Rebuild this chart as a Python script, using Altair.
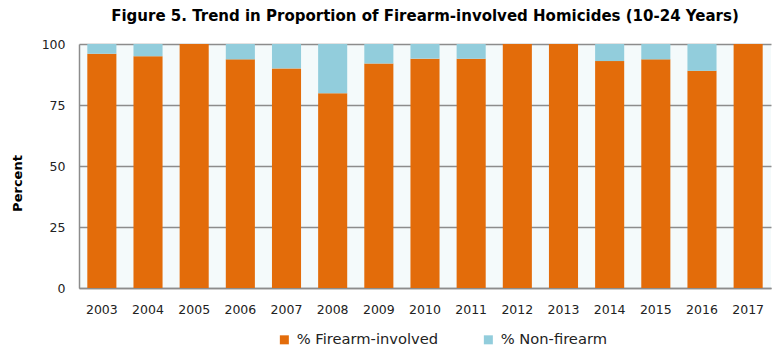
import altair as alt
import pandas as pd

years = [str(y) for y in range(2003, 2018)]
firearm = [96, 95, 100, 93.7, 90, 79.8, 92, 94, 94, 100, 100, 93, 93.7, 89, 100]
nonfirearm = [round(100 - v, 1) for v in firearm]

series_names = ["% Firearm-involved", "% Non-firearm"]
colors = ["#E36C0A", "#92CDDC"]

rows = []
for y, f, n in zip(years, firearm, nonfirearm):
    rows.append({"year": y, "series": series_names[0], "value": f, "ord": 0})
    rows.append({"year": y, "series": series_names[1], "value": n, "ord": 1})
df = pd.DataFrame(rows)

font = "DejaVu Sans"

chart = alt.Chart(df).mark_bar().encode(
    x=alt.X("year:N", title=None,
            scale=alt.Scale(paddingInner=0.37, paddingOuter=0.18),
            axis=alt.Axis(labelAngle=0, labelFont=font, labelFontSize=12.5,
                          labelColor="#222222", ticks=False, labelPadding=15,
                          domainColor="#8C8C8C", domainWidth=1.5, grid=False)),
    y=alt.Y("value:Q", title="Percent", stack="zero",
            scale=alt.Scale(domain=[0, 100], nice=False),
            axis=alt.Axis(values=[0, 25, 50, 75, 100], labelFont=font, labelFontSize=12.5,
                          labelColor="#222222", ticks=False, labelPadding=14,
                          titleFont=font, titleFontSize=13, titleFontWeight="bold",
                          titleColor="#000000", titleX=-62, titleY=139,
                          titleAlign="center", titleBaseline="middle", titleAngle=270,
                          domainColor="#8C8C8C", domainWidth=1.5,
                          gridColor="#8C8C8C", gridWidth=1.5)),
    color=alt.Color("series:N",
                    scale=alt.Scale(domain=series_names, range=colors),
                    legend=alt.Legend(title=None, orient="none", direction="horizontal",
                                      legendX=198, legendY=288,
                                      symbolType="square", symbolSize=81,
                                      symbolStrokeWidth=0, labelFont=font,
                                      labelFontSize=14.7, labelColor="#222222",
                                      labelOffset=5, columnPadding=42)),
    order=alt.Order("ord:Q", sort="ascending"),
).properties(
    width=692,
    height=244,
    title=alt.TitleParams(
        "Figure 5. Trend in Proportion of Firearm-involved Homicides (10-24 Years)",
        font=font, fontSize=15, fontWeight="bold", color="#000000",
        anchor="middle", offset=14),
    autosize=alt.AutoSizeParams(type="none"),
    padding={"left": 79, "top": 44, "right": 7, "bottom": 61},
).configure_view(
    fill="#F4FAFB", stroke=None
)

chart.save("out.html", embed_options={"renderer": "svg", "actions": False})
